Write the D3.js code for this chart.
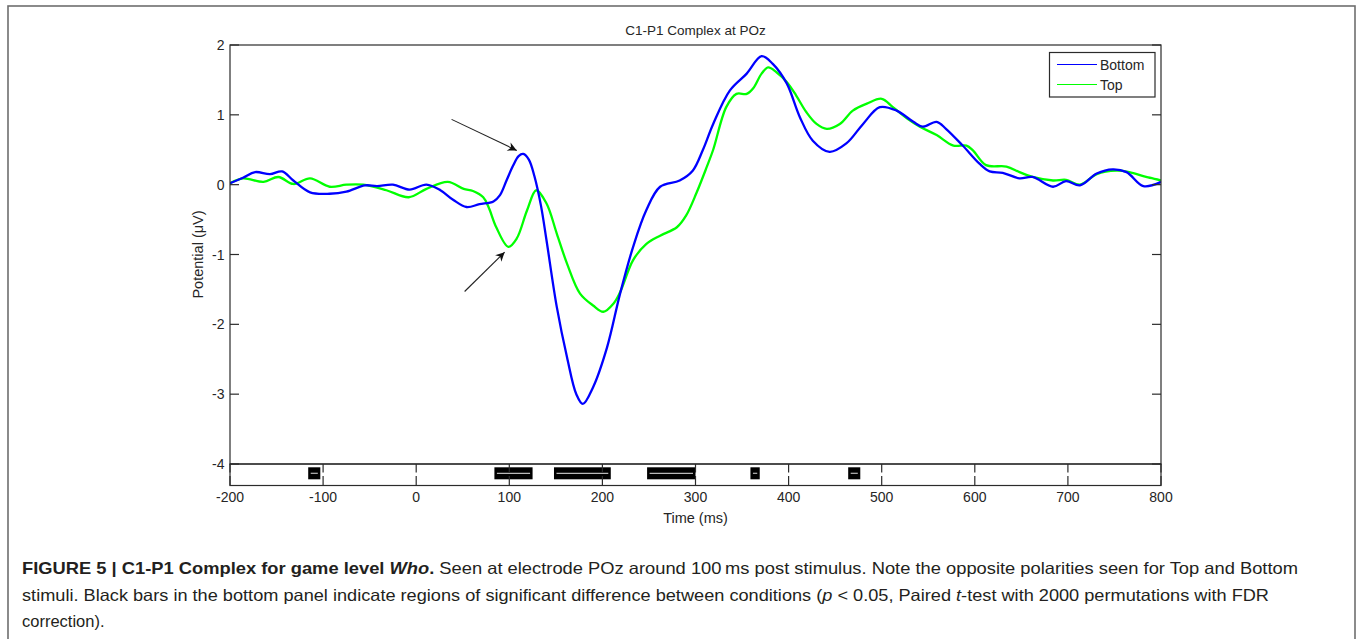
<!DOCTYPE html>
<html>
<head>
<meta charset="utf-8">
<script src="https://cdn.jsdelivr.net/npm/d3@7"></script>
<style>
  html, body { margin: 0; padding: 0; background: #fff; }
  svg { display: block; }
</style>
</head>
<body>
<svg id="fig" width="1360" height="639"></svg>
<script>
// ERP waveforms at POz: [time (ms), potential (µV)]
const bottomSeries = [
  [-200,0.02],[-186,0.1],[-173,0.18],[-157,0.15],[-144,0.19],[-132,0.06],[-114,-0.11],
  [-93,-0.13],[-75,-0.1],[-55,-0.01],[-42,-0.02],[-25,0.0],[-7,-0.07],[11,0.0],[26,-0.08],
  [40,-0.22],[54,-0.32],[68,-0.28],[83,-0.24],[90,-0.15],[97,0.06],[104,0.27],[110,0.41],
  [115,0.44],[121,0.36],[127,0.12],[134,-0.3],[140,-0.8],[151,-1.75],[162,-2.47],[172,-3.0],
  [179,-3.14],[190,-2.9],
  [205,-2.33],[219,-1.56],[233,-0.89],[247,-0.37],[262,-0.03],[283,0.06],[297,0.2],
  [308,0.5],[319,0.87],[337,1.35],[355,1.59],[371,1.84],[383,1.73],[398,1.45],[412,0.97],
  [426,0.63],[444,0.47],[462,0.59],[480,0.87],[498,1.11],[516,1.06],[534,0.9],[544,0.83],
  [559,0.9],[569,0.8],[587,0.56],[605,0.3],[616,0.19],[630,0.17],[648,0.09],[662,0.11],
  [684,-0.03],[698,0.05],[713,-0.01],[731,0.16],[748,0.22],[763,0.18],[781,-0.02],[800,0.04]
];
const topSeries = [
  [-200,0.02],[-186,0.09],[-164,0.04],[-148,0.11],[-132,0.01],[-114,0.09],[-93,-0.03],
  [-75,0.0],[-57,0.0],[-32,-0.08],[-8,-0.18],[11,-0.06],[34,0.04],[51,-0.06],[61,-0.09],
  [72,-0.18],[78,-0.33],[86,-0.61],[99,-0.89],[108,-0.77],[119,-0.37],[129,-0.08],
  [140,-0.27],[151,-0.7],[162,-1.13],[176,-1.56],[190,-1.73],[201,-1.82],[212,-1.7],
  [219,-1.54],[233,-1.08],[247,-0.85],[262,-0.73],[280,-0.61],[290,-0.44],[301,-0.12],
  [312,0.25],[319,0.5],[333,1.11],[344,1.3],[355,1.3],[362,1.38],[371,1.59],[378,1.68],
  [387,1.61],[398,1.47],[408,1.28],[419,1.04],[430,0.87],[441,0.8],[455,0.87],[469,1.06],
  [484,1.16],[500,1.23],[512,1.11],[527,0.95],[541,0.83],[559,0.71],[577,0.56],[591,0.56],
  [598,0.49],[612,0.28],[634,0.26],[648,0.18],[662,0.11],[684,0.06],[698,0.07],[713,0.0],
  [731,0.15],[752,0.2],[766,0.18],[784,0.11],[800,0.06]
];
const seriesNames = ["Bottom", "Top"];
const seriesColors = ["#0000ff", "#00ff00"];

// Intervals of significant difference (ms)
const sigStart = [-116, 84, 148, 248, 359, 464];
const sigEnd   = [-103, 125, 209, 300, 369, 477];

// Tick values
const xTicks = [-200,-100,0,100,200,300,400,500,600,700,800];
const yTicks = [2,1,0,-1,-2,-3,-4];

// Arrow annotations: tail and head in data units [time, µV]
const arrowTails = [[38, 0.935], [52, -1.53]];
const arrowHeads = [[108, 0.49], [95, -0.966]];

const captionLines = [
  [{t:"FIGURE 5 | C1-P1 Complex for game level ", w:"bold"}, {t:"Who", w:"bold", i:true}, {t:".", w:"bold"},
   {t:" Seen at electrode POz around 100\u2009ms post stimulus. Note the opposite polarities seen for Top and Bottom"}],
  [{t:"stimuli. Black bars in the bottom panel indicate regions of significant difference between conditions ("},
   {t:"p", i:true}, {t:" < 0.05, Paired "}, {t:"t", i:true},
   {t:"-test with 2000 permutations with FDR"}],
  [{t:"correction)."}]
];

const svg = d3.select("#fig");
const font = "'Liberation Sans', Arial, Helvetica, sans-serif";
const axisColor = "#2b2b2b";
const textColor = "#262626";

// outer figure frame
svg.append("rect").attr("x", 8).attr("y", 6).attr("width", 1347).attr("height", 660)
  .attr("fill", "none").attr("stroke", "#6e6e6e").attr("stroke-width", 1.6);

const x = d3.scaleLinear().domain([-200, 800]).range([230, 1161]);
const y = d3.scaleLinear().domain([-4, 2]).range([464, 45]);
const panelTop = y(-4), panelBottom = 485.5;

// clip for curves
svg.append("clipPath").attr("id", "plotClip").append("rect")
  .attr("x", x(-200)).attr("y", y(2)).attr("width", x(800) - x(-200)).attr("height", y(-4) - y(2));

// waveforms (Top drawn first, Bottom over it)
const line = d3.line().x(d => x(d[0])).y(d => y(d[1])).curve(d3.curveCatmullRom.alpha(0.5));
const gLines = svg.append("g").attr("clip-path", "url(#plotClip)");
[[topSeries, seriesColors[1]], [bottomSeries, seriesColors[0]]].forEach(([s, c]) => {
  gLines.append("path").datum(s).attr("d", line).attr("fill", "none")
    .attr("stroke", c).attr("stroke-width", 2.3).attr("stroke-linejoin", "round");
});

// main axes box
svg.append("rect").attr("x", x(-200)).attr("y", y(2)).attr("width", x(800) - x(-200))
  .attr("height", y(-4) - y(2)).attr("fill", "none").attr("stroke", axisColor).attr("stroke-width", 1.2);

// y ticks (left and right, inward)
const gy = svg.append("g");
yTicks.forEach(v => {
  gy.append("line").attr("x1", x(-200)).attr("x2", x(-200) + 9).attr("y1", y(v)).attr("y2", y(v))
    .attr("stroke", axisColor).attr("stroke-width", 1.2);
  gy.append("line").attr("x1", x(800)).attr("x2", x(800) - 9).attr("y1", y(v)).attr("y2", y(v))
    .attr("stroke", axisColor).attr("stroke-width", 1.2);
  gy.append("text").attr("x", 224.5).attr("y", y(v) + 5).attr("text-anchor", "end")
    .attr("font-family", font).attr("font-size", 14).attr("fill", textColor).text(v);
});

// bottom significance panel
svg.append("rect").attr("x", x(-200)).attr("y", panelTop).attr("width", x(800) - x(-200))
  .attr("height", panelBottom - panelTop).attr("fill", "none").attr("stroke", axisColor).attr("stroke-width", 1.2);

const gSig = svg.append("g");
sigStart.forEach((s, i) => {
  const x0 = x(s), x1 = x(sigEnd[i]);
  gSig.append("rect").attr("x", x0).attr("y", 467.3).attr("width", x1 - x0).attr("height", 12)
    .attr("fill", "#000");
  gSig.append("line").attr("x1", x0 + 2.5).attr("x2", x1 - 2.5).attr("y1", 473.3).attr("y2", 473.3)
    .attr("stroke", "#b8b8b8").attr("stroke-width", 1.2);
});

const gx = svg.append("g");
xTicks.forEach(t => {
  gx.append("line").attr("x1", x(t)).attr("x2", x(t)).attr("y1", panelTop).attr("y2", panelTop + 8.5)
    .attr("stroke", axisColor).attr("stroke-width", 1.2);
  gx.append("line").attr("x1", x(t)).attr("x2", x(t)).attr("y1", panelBottom).attr("y2", panelBottom - 9.5)
    .attr("stroke", axisColor).attr("stroke-width", 1.2);
  gx.append("text").attr("x", x(t)).attr("y", 501.5).attr("text-anchor", "middle")
    .attr("font-family", font).attr("font-size", 14).attr("fill", textColor).text(t);
});

// axis labels and title
svg.append("text").attr("x", (x(-200) + x(800)) / 2).attr("y", 523).attr("text-anchor", "middle")
  .attr("font-family", font).attr("font-size", 14.5).attr("fill", textColor).text("Time (ms)");
svg.append("text").attr("transform", `translate(203,${(y(2) + y(-4)) / 2}) rotate(-90)`)
  .attr("text-anchor", "middle").attr("font-family", font).attr("font-size", 14.5)
  .attr("fill", textColor).text("Potential (\u03bcV)");
svg.append("text").attr("x", (x(-200) + x(800)) / 2).attr("y", 34.5).attr("text-anchor", "middle")
  .attr("font-family", font).attr("font-size", 13.5).attr("fill", textColor).text("C1-P1 Complex at POz");

// arrows
const defs = svg.append("defs");
defs.append("marker").attr("id", "ah").attr("viewBox", "0 0 10 10").attr("refX", 10).attr("refY", 5)
  .attr("markerWidth", 13).attr("markerHeight", 9).attr("markerUnits", "userSpaceOnUse")
  .attr("orient", "auto")
  .append("path").attr("d", "M0,0 L10,5 L0,10 L3,5 Z").attr("fill", "#111");
arrowTails.forEach((tl, i) => {
  const hd = arrowHeads[i];
  svg.append("line").attr("x1", x(tl[0])).attr("y1", y(tl[1])).attr("x2", x(hd[0])).attr("y2", y(hd[1]))
    .attr("stroke", "#222").attr("stroke-width", 1.1).attr("marker-end", "url(#ah)");
});

// legend
const lg = svg.append("g");
lg.append("rect").attr("x", 1049.5).attr("y", 52.5).attr("width", 105.5).attr("height", 44.5)
  .attr("fill", "#fff").attr("stroke", axisColor).attr("stroke-width", 1.2);
seriesNames.forEach((n, i) => {
  const ly = 64.5 + i * 20;
  lg.append("line").attr("x1", 1057).attr("x2", 1097).attr("y1", ly).attr("y2", ly)
    .attr("stroke", seriesColors[i]).attr("stroke-width", 1.2);
  lg.append("text").attr("x", 1100).attr("y", ly + 5).attr("font-family", font).attr("font-size", 14)
    .attr("fill", textColor).text(n);
});

// caption
const capBase = [574, 601, 627];
const capWidth = [1276, 1247, null];
captionLines.forEach((segs, li) => {
  const t = svg.append("text").attr("x", 22).attr("y", capBase[li])
    .attr("font-family", font).attr("font-size", 16.5).attr("fill", "#231f20");
  segs.forEach(s => {
    t.append("tspan").attr("font-weight", s.w || "normal").attr("font-style", s.i ? "italic" : "normal").text(s.t);
  });
  if (capWidth[li]) t.attr("textLength", capWidth[li]).attr("lengthAdjust", "spacingAndGlyphs");
});
</script>
</body>
</html>
